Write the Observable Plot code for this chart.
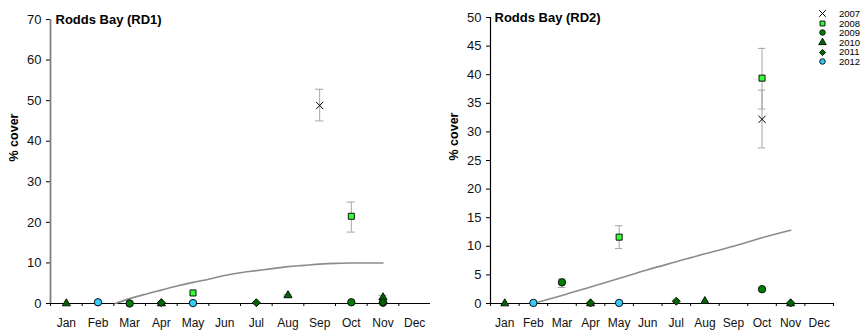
<!DOCTYPE html>
<html>
<head>
<meta charset="utf-8">
<script src="https://cdn.jsdelivr.net/npm/d3@7"></script>
<script src="https://cdn.jsdelivr.net/npm/@observablehq/plot@0.6"></script>
<style>
  body { margin: 0; background: #fff; font-family: "Liberation Sans", Arial, sans-serif; }
  #wrap { position: relative; width: 863px; height: 334px; }
  #left { position: absolute; left: 0; top: 0; }
  #right { position: absolute; left: 430px; top: 0; }
  #legend { position: absolute; left: 818px; top: 9px; font-size: 9.5px; line-height: 9.6px; color: #000; }
  #legend .row { display: flex; align-items: center; height: 9.6px; }
  #legend svg { margin-right: 12px; }
</style>
</head>
<body>
<div id="wrap">
  <div id="left"></div>
  <div id="right"></div>
  <div id="legend"></div>
</div>
<script>
const months = ["Jan","Feb","Mar","Apr","May","Jun","Jul","Aug","Sep","Oct","Nov","Dec"];
const years = ["2007","2008","2009","2010","2011","2012"];
const yearSymbols = ["times","square","circle","triangle","diamond2","circle"];
const yearFills = ["none","#33ff33","#008000","#006600","#006600","#33ccff"];
const yearSizes = [3.4, 3.4, 3.7, 3.0, 3.6, 3.7];

// RD1 observations: month number, year, % cover, error low, error high
const rd1Month = [1, 2, 3, 4, 4, 5, 5, 7, 8, 9, 10, 10, 11, 11, 11];
const rd1Year  = ["2010","2012","2009","2010","2011","2008","2012","2011","2010","2007","2008","2009","2009","2010","2011"];
const rd1Value = [0, 0.3, 0, 0, 0.2, 2.6, 0.1, 0.2, 2.0, 48.8, 21.5, 0.3, 0.2, 1.5, 0.3];
const rd1Lo    = [null,null,null,null,null,null,null,null,1.8,45.0,17.6,null,null,1.0,null];
const rd1Hi    = [null,null,null,null,null,null,null,null,2.2,52.8,25.0,null,null,2.0,null];
const rd1LineMonth = [2.55, 3, 3.5, 4, 4.5, 5, 5.5, 6, 6.5, 7, 7.5, 8, 8.5, 9, 9.5, 10, 10.5, 11];
const rd1LineValue = [0, 1.2, 2.3, 3.3, 4.3, 5.2, 6.0, 6.9, 7.6, 8.1, 8.6, 9.1, 9.4, 9.7, 9.9, 10.0, 10.0, 10.0];

// RD2 observations
const rd2Month = [1, 2, 3, 4, 4, 5, 5, 7, 8, 10, 10, 10, 11, 11];
const rd2Year  = ["2010","2012","2009","2010","2011","2008","2012","2011","2010","2009","2007","2008","2010","2011"];
const rd2Value = [0, 0.1, 3.7, 0, 0.1, 11.6, 0.1, 0.4, 0.4, 2.5, 32.2, 39.4, 0, 0.1];
const rd2Lo    = [null,null,2.8,null,null,9.6,null,null,null,null,27.2,34.0,null,null];
const rd2Hi    = [null,null,4.3,null,null,13.6,null,null,null,null,37.3,44.6,null,null];
const rd2LineMonth = [2, 3, 4, 5, 6, 7, 8, 9, 10, 11];
const rd2LineValue = [0, 1.4, 2.9, 4.4, 5.9, 7.3, 8.7, 10.0, 11.5, 12.8];

const yTicks1 = [0,10,20,30,40,50,60,70];
const yTicks2 = [0,5,10,15,20,25,30,35,40,45,50];

function rows(m, yr, v, lo, hi) {
  return m.map((d, i) => ({m: d, year: yr[i], v: v[i], lo: lo[i], hi: hi[i]}));
}
function lineRows(m, v) { return m.map((d, i) => ({m: d, v: v[i]})); }

function dotMarks(data) {
  return years.map((y, i) => Plot.dot(data.filter(d => d.year === y), {
    x: "m", y: "v", symbol: yearSymbols[i], r: yearSizes[i],
    fill: yearFills[i], stroke: i === 0 ? "#000" : "#111", strokeWidth: 1
  }));
}

function panel({title, data, line, yMax, yTicks, width, marginLeft, marginRight, marginTop, spine, spineWidth, titleDx}) {
  const errs = data.filter(d => d.lo != null);
  return Plot.plot({
    width, height: 334,
    marginLeft, marginRight, marginTop, marginBottom: 31,
    style: {fontFamily: "Liberation Sans, Arial, sans-serif", background: "#fff", overflow: "visible"},
    x: {domain: [0.5, 12.5], axis: null},
    y: {domain: [0, yMax], axis: null},
    marks: [
      Plot.axisY({ticks: yTicks, tickSize: 4, tickPadding: 5, fontSize: 13, stroke: "#000", color: "#111", label: null}),
      Plot.axisX({ticks: d3.range(0.5, 13, 1), tickFormat: () => "", tickSize: 3, stroke: "#000", label: null}),
      Plot.axisX({ticks: d3.range(1, 13), tickFormat: i => months[i - 1], tickSize: 0, tickPadding: 15, fontSize: 12, color: "#111", label: null}),
      Plot.ruleX([0.5], {stroke: spine, strokeWidth: spineWidth}),
      Plot.ruleY([0], {stroke: "#000", strokeWidth: 1}),
      Plot.text(["% cover"], {frameAnchor: "left", rotate: -90, dx: -37, fontWeight: "bold", fontSize: 12.5, fill: "#000"}),
      Plot.text([title], {frameAnchor: "top-left", dx: titleDx, lineAnchor: "middle", textAnchor: "start", fontWeight: "bold", fontSize: 13, fill: "#000"}),
      Plot.ruleX(errs, {x: "m", y1: "lo", y2: "hi", stroke: "#a6a6a6", strokeWidth: 1}),
      Plot.ruleY(errs, {y: "lo", x1: d => d.m - 0.13, x2: d => d.m + 0.13, stroke: "#a6a6a6", strokeWidth: 1}),
      Plot.ruleY(errs, {y: "hi", x1: d => d.m - 0.13, x2: d => d.m + 0.13, stroke: "#a6a6a6", strokeWidth: 1}),
      Plot.line(line, {x: "m", y: "v", stroke: "#8c8c8c", strokeWidth: 1.6, curve: "monotone-x"}),
      ...dotMarks(data)
    ]
  });
}

document.getElementById("left").appendChild(panel({
  title: "Rodds Bay (RD1)",
  data: rows(rd1Month, rd1Year, rd1Value, rd1Lo, rd1Hi),
  line: lineRows(rd1LineMonth, rd1LineValue),
  yMax: 70, yTicks: yTicks1, width: 430, marginLeft: 50, marginRight: 0, marginTop: 19,
  spine: "#808080", spineWidth: 1.8, titleDx: 5
}));

document.getElementById("right").appendChild(panel({
  title: "Rodds Bay (RD2)",
  data: rows(rd2Month, rd2Year, rd2Value, rd2Lo, rd2Hi),
  line: lineRows(rd2LineMonth, rd2LineValue),
  yMax: 50, yTicks: yTicks2, width: 433, marginLeft: 60, marginRight: 30, marginTop: 17,
  spine: "#000", spineWidth: 1.2, titleDx: 4
}));

// Legend
const legend = d3.select("#legend");
const symMap = {times: d3.symbolTimes, square: d3.symbolSquare, circle: d3.symbolCircle, triangle: d3.symbolTriangle, diamond2: d3.symbolDiamond2};
years.forEach((y, i) => {
  const row = legend.append("div").attr("class", "row");
  const svg = row.append("svg").attr("width", 9).attr("height", 9);
  const path = d3.symbol(symMap[yearSymbols[i]], yearSymbols[i] === "times" ? 30 : 24)();
  svg.append("path").attr("d", path).attr("transform", "translate(4.5,4.5)")
    .attr("fill", yearFills[i]).attr("stroke", i === 0 ? "#000" : "#111").attr("stroke-width", 1);
  row.append("span").text(y);
});
</script>
</body>
</html>
